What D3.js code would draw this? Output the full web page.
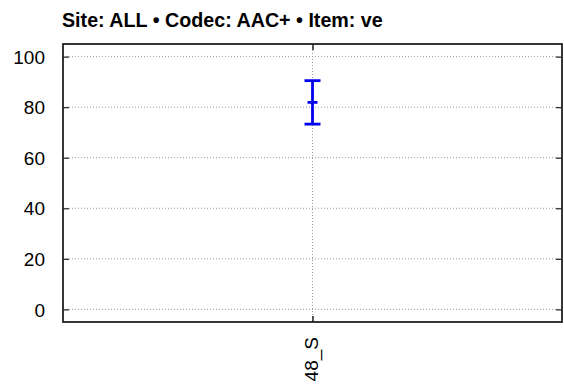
<!DOCTYPE html>
<html><head><meta charset="utf-8">
<script src="https://cdn.jsdelivr.net/npm/d3@7"></script>
<style>body{margin:0;background:#fff}svg{display:block}</style>
</head><body>
<script>
const categories = ["48_S"];
const lowerValues = [73.3];
const meanValues = [81.9];
const upperValues = [90.5];
const yTicks = [0, 20, 40, 60, 80, 100];
const titleText = "Site: ALL \u2022 Codec: AAC+ \u2022 Item: ve";

const W = 564, H = 389;
const m = {left: 63, right: 2, top: 44, bottom: 67};
const svg = d3.select("body").append("svg").attr("width", W).attr("height", H);

const x = d3.scalePoint().domain(categories).range([m.left, W - m.right]).padding(0.5);
const y = d3.scaleLinear().domain([-5, 105]).range([H - m.bottom, m.top]);
const font = "'Liberation Sans', Arial, Helvetica, sans-serif";

// grid
const g = svg.append("g");
g.selectAll("line.hg").data(yTicks).join("line")
  .attr("x1", m.left).attr("x2", W - m.right)
  .attr("y1", d => y(d)).attr("y2", d => y(d))
  .attr("stroke", "#999").attr("stroke-width", 1).attr("stroke-dasharray", "1,2");
g.selectAll("line.vg").data(categories).join("line")
  .attr("x1", d => x(d)).attr("x2", d => x(d))
  .attr("y1", m.top).attr("y2", H - m.bottom)
  .attr("stroke", "#999").attr("stroke-width", 1).attr("stroke-dasharray", "1,2");

// axes (ticks inward)
const yAxisL = d3.axisLeft(y).tickValues(yTicks).tickSize(-6).tickPadding(18);
const gl = svg.append("g").attr("transform", `translate(${m.left},0)`).call(yAxisL);
gl.select(".domain").remove();
gl.selectAll("line").attr("stroke", "#222").attr("stroke-width", 1.2);
gl.selectAll("text").attr("font-family", font).attr("font-size", 19).attr("fill", "#000")
  .attr("dy", "0.35em");

const yAxisR = d3.axisRight(y).tickValues(yTicks).tickSize(-6).tickFormat("");
const gr = svg.append("g").attr("transform", `translate(${W - m.right},0)`).call(yAxisR);
gr.select(".domain").remove();
gr.selectAll("line").attr("stroke", "#222").attr("stroke-width", 1.2);

const xAxisB = d3.axisBottom(x).tickSize(-6).tickFormat("");
const gb = svg.append("g").attr("transform", `translate(0,${H - m.bottom})`).call(xAxisB);
gb.select(".domain").remove();
gb.selectAll("line").attr("stroke", "#222").attr("stroke-width", 1.5);

const xAxisT = d3.axisTop(x).tickSize(-6).tickFormat("");
const gt = svg.append("g").attr("transform", `translate(0,${m.top})`).call(xAxisT);
gt.select(".domain").remove();
gt.selectAll("line").attr("stroke", "#222").attr("stroke-width", 1.5);

// x labels rotated
svg.append("g").selectAll("text").data(categories).join("text")
  .attr("transform", d => `translate(${x(d) + 5},${H - m.bottom + 15}) rotate(-90)`)
  .attr("text-anchor", "end")
  .attr("font-family", font).attr("font-size", 19).attr("fill", "#000")
  .text(d => d);

// frame
svg.append("rect").attr("x", m.left).attr("y", m.top)
  .attr("width", W - m.right - m.left).attr("height", H - m.bottom - m.top)
  .attr("fill", "none").attr("stroke", "#222").attr("stroke-width", 1.8);

// error bars
const eb = svg.append("g").attr("stroke", "#0000ee").attr("stroke-width", 2.8);
categories.forEach((c, i) => {
  const cx = x(c);
  eb.append("line").attr("x1", cx).attr("x2", cx).attr("y1", y(lowerValues[i])).attr("y2", y(upperValues[i]));
  eb.append("line").attr("x1", cx - 8).attr("x2", cx + 8).attr("y1", y(upperValues[i])).attr("y2", y(upperValues[i]));
  eb.append("line").attr("x1", cx - 8).attr("x2", cx + 8).attr("y1", y(lowerValues[i])).attr("y2", y(lowerValues[i]));
  eb.append("line").attr("x1", cx - 5).attr("x2", cx + 5).attr("y1", y(meanValues[i])).attr("y2", y(meanValues[i]));
});

// title
const t = svg.append("text").attr("x", 0).attr("y", 0)
  .attr("font-family", font).attr("font-weight", "bold").attr("font-size", 20).attr("fill", "#000")
  .text(titleText);
const tw = t.node().getComputedTextLength();
const sx = 321 / tw;
t.attr("transform", `translate(62,26.5) scale(${sx},1)`);
</script>
</body></html>
